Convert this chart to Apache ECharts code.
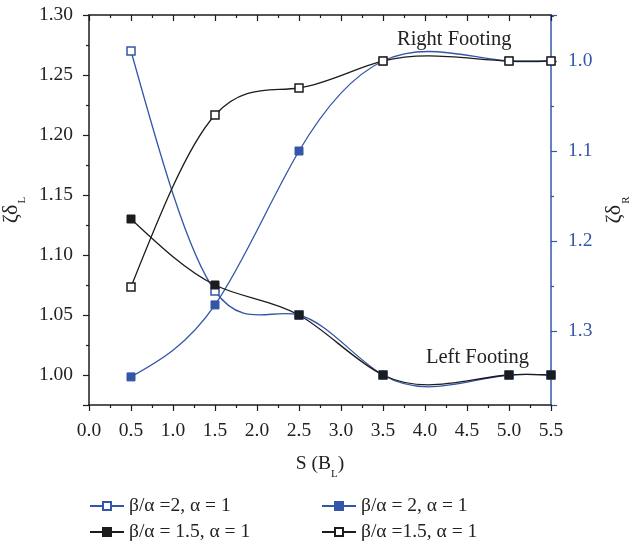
<!DOCTYPE html>
<html>
<head>
<meta charset="utf-8">
<script src="https://cdn.jsdelivr.net/npm/echarts@6/dist/echarts.min.js"></script>
<style>
html,body{margin:0;padding:0;background:#fff;}
#chart{width:629px;height:546px;}
</style>
</head>
<body>
<div id="chart"></div>
<script>
// ---- data ----
const xVals = [0.5, 1.5, 2.5, 3.5, 5.0, 5.5];
const blueOpenLeft = [1.27, 1.07, 1.05, 1.00, 1.00, 1.00];      // β/α =2, α = 1 (left axis)
const blueFilledRight = [1.351, 1.271, 1.10, 1.00, 1.00, 1.00]; // β/α = 2, α = 1 (right axis)
const blackFilledLeft = [1.13, 1.075, 1.05, 1.00, 1.00, 1.00];  // β/α = 1.5, α = 1 (left axis)
const blackOpenRight = [1.251, 1.06, 1.03, 1.00, 1.00, 1.00];   // β/α =1.5, α = 1 (right axis)
const seriesNames = ['β/α =2, α = 1', 'β/α = 2, α = 1', 'β/α = 1.5, α = 1', 'β/α =1.5, α = 1'];
const leftTickLabels = [1.00, 1.05, 1.10, 1.15, 1.20, 1.25, 1.30];
const rightTickLabels = [1.0, 1.1, 1.2, 1.3];
const xTickLabels = [0.0, 0.5, 1.0, 1.5, 2.0, 2.5, 3.0, 3.5, 4.0, 4.5, 5.0, 5.5];
const annotations = ['Right Footing', 'Left Footing'];

const FONT = 'Liberation Serif';
const BLUE = '#3456a8';
const BLACK = '#1c1c1c';

function pairs(ys) { return xVals.map((x, i) => [x, ys[i]]); }
function isIn(list, v) { return list.some(t => Math.abs(t - v) < 1e-6); }

// slopes of a natural cubic spline through pixel points (x increasing)
function splineSlopes(p) {
  const n = p.length, h = [], d = [];
  for (let i = 0; i < n - 1; i++) { h[i] = p[i + 1][0] - p[i][0]; d[i] = (p[i + 1][1] - p[i][1]) / h[i]; }
  const M = new Array(n).fill(0), cp = [], rp = [];
  for (let i = 1; i < n - 1; i++) {
    const a = h[i - 1], b = 2 * (h[i - 1] + h[i]), c = h[i], r = 6 * (d[i] - d[i - 1]);
    const denom = b - (i > 1 ? a * cp[i - 1] : 0);
    cp[i] = c / denom;
    rp[i] = (r - (i > 1 ? a * rp[i - 1] : 0)) / denom;
  }
  for (let i = n - 2; i >= 1; i--) M[i] = rp[i] - (i < n - 2 ? cp[i] * M[i + 1] : 0);
  const m = [];
  for (let i = 0; i < n - 1; i++) m[i] = d[i] - h[i] * (2 * M[i] + M[i + 1]) / 6;
  m[n - 1] = d[n - 2] + h[n - 2] * (M[n - 2] + 2 * M[n - 1]) / 6;
  return m;
}

function curveSeries(ys, yIdx, color) {
  return {
    type: 'custom',
    name: 'curve-' + yIdx + '-' + color,
    yAxisIndex: yIdx,
    data: pairs(ys),
    encode: {x: 0, y: 1},
    silent: true,
    renderItem: function (params, api) {
      const pts = xVals.map((x, i) => api.coord([x, ys[i]]));
      const i = params.dataIndex;
      if (i >= pts.length - 1) return null;
      const m = splineSlopes(pts);
      const h = pts[i + 1][0] - pts[i][0];
      return {
        type: 'bezierCurve',
        shape: {
          x1: pts[i][0], y1: pts[i][1], x2: pts[i + 1][0], y2: pts[i + 1][1],
          cpx1: pts[i][0] + h / 3, cpy1: pts[i][1] + m[i] * h / 3,
          cpx2: pts[i + 1][0] - h / 3, cpy2: pts[i + 1][1] - m[i + 1] * h / 3
        },
        style: {stroke: color, lineWidth: 1.3, fill: 'none'}
      };
    }
  };
}

function markSeries(name, ys, yIdx, color, open) {
  return {
    name: name,
    type: 'line',
    yAxisIndex: yIdx,
    data: pairs(ys),
    symbol: 'rect',
    symbolSize: 8,
    lineStyle: {color: color, width: 1.3, opacity: 0},
    itemStyle: open ? {color: '#ffffff', borderColor: color, borderWidth: 1.5}
                    : {color: color, borderColor: color, borderWidth: 1},
    emphasis: {disabled: true}
  };
}

function legendItem(name, left, top) {
  return {
    data: [name],
    left: left, top: top,
    itemWidth: 34, itemHeight: 10,
    selectedMode: false,
    lineStyle: {opacity: 1},
    textStyle: {fontFamily: FONT, fontSize: 19.5, color: '#222'}
  };
}

const chart = echarts.init(document.getElementById('chart'), null, {renderer: 'canvas'});

const option = {
  animation: false,
  grid: {left: 89, right: 78, top: 15, bottom: 141, containLabel: false, outerBoundsMode: 'none'},
  xAxis: [{
    type: 'value', position: 'bottom',
    min: 0, max: 5.5, interval: 0.5,
    name: '{n|S (B}{s|L}{n|)}',
    nameLocation: 'middle', nameGap: 49,
    nameTextStyle: {rich: {
      n: {fontFamily: FONT, fontSize: 19.5, color: '#222'},
      s: {fontFamily: FONT, fontSize: 11, color: '#222', verticalAlign: 'bottom', padding: [0, 0, -6, 0]}
    }},
    axisLine: {show: true, onZero: false, lineStyle: {color: BLACK, width: 1.5}},
    axisTick: {show: true, inside: false, length: 6, lineStyle: {color: BLACK, width: 1.2}},
    minorTick: {show: true, splitNumber: 2, length: 3, lineStyle: {color: BLACK, width: 1.2}},
    splitLine: {show: false},
    axisLabel: {
      margin: 16, fontFamily: FONT, fontSize: 19.5, color: '#222',
      formatter: v => isIn(xTickLabels, v) ? v.toFixed(1) : ''
    }
  }, {
    type: 'value', position: 'top',
    min: 0, max: 5.5, interval: 0.5,
    axisLine: {show: true, onZero: false, lineStyle: {color: BLACK, width: 1.5}},
    axisTick: {show: true, inside: true, length: 6, lineStyle: {color: BLACK, width: 1.2}},
    minorTick: {show: true, splitNumber: 2, length: 3, lineStyle: {color: BLACK, width: 1.2}},
    splitLine: {show: false},
    axisLabel: {show: false}
  }],
  yAxis: [{
    type: 'value', position: 'left',
    min: 0.975, max: 1.30, splitNumber: 6,
    name: '{a|ζδ}{s|L}',
    nameLocation: 'middle', nameGap: 52, nameRotate: 90,
    nameTextStyle: {rich: {
      a: {fontFamily: FONT, fontSize: 22, color: '#222'},
      s: {fontFamily: FONT, fontSize: 11, color: '#222', verticalAlign: 'bottom', padding: [0, 0, -6, 1]}
    }},
    axisLine: {show: true, onZero: false, lineStyle: {color: BLACK, width: 1.5}},
    axisTick: {show: true, inside: false, length: 6, lineStyle: {color: BLACK, width: 1.2}},
    minorTick: {show: true, splitNumber: 2, length: 3, lineStyle: {color: BLACK, width: 1.2}},
    splitLine: {show: false},
    axisLabel: {
      margin: 16, fontFamily: FONT, fontSize: 19.5, color: '#222',
      formatter: v => isIn(leftTickLabels, v) ? v.toFixed(2) : ''
    }
  }, {
    type: 'value', position: 'right', inverse: true,
    min: 0.9489, max: 1.3822, splitNumber: 4,
    name: '{a|ζδ}{s|R}',
    nameLocation: 'middle', nameGap: 48, nameRotate: 90,
    nameTextStyle: {rich: {
      a: {fontFamily: FONT, fontSize: 22, color: '#222'},
      s: {fontFamily: FONT, fontSize: 11, color: '#222', verticalAlign: 'bottom', padding: [0, 0, -6, 1]}
    }},
    axisLine: {show: true, onZero: false, lineStyle: {color: BLUE, width: 1.5}},
    axisTick: {show: true, inside: false, length: 6, lineStyle: {color: BLUE, width: 1.2}},
    minorTick: {show: true, splitNumber: 2, length: 3, lineStyle: {color: BLUE, width: 1.2}},
    splitLine: {show: false},
    axisLabel: {
      margin: 17, fontFamily: FONT, fontSize: 19.5, color: BLUE,
      formatter: v => isIn(rightTickLabels, v) ? v.toFixed(1) : ''
    }
  }],
  legend: [
    legendItem(seriesNames[0], 84, 491),
    legendItem(seriesNames[1], 316, 491),
    legendItem(seriesNames[2], 84, 517),
    legendItem(seriesNames[3], 316, 517)
  ],
  graphic: [
    {type: 'text', left: 397, top: 29, style: {text: annotations[0], font: '20.5px "Liberation Serif"', fill: '#222'}},
    {type: 'text', left: 426, top: 347, style: {text: annotations[1], font: '20.5px "Liberation Serif"', fill: '#222'}}
  ],
  series: [
    curveSeries(blueOpenLeft, 0, BLUE),
    markSeries(seriesNames[0], blueOpenLeft, 0, BLUE, true),
    curveSeries(blueFilledRight, 1, BLUE),
    markSeries(seriesNames[1], blueFilledRight, 1, BLUE, false),
    curveSeries(blackFilledLeft, 0, BLACK),
    markSeries(seriesNames[2], blackFilledLeft, 0, BLACK, false),
    curveSeries(blackOpenRight, 1, BLACK),
    markSeries(seriesNames[3], blackOpenRight, 1, BLACK, true)
  ]
};
chart.setOption(option);
</script>
</body>
</html>
